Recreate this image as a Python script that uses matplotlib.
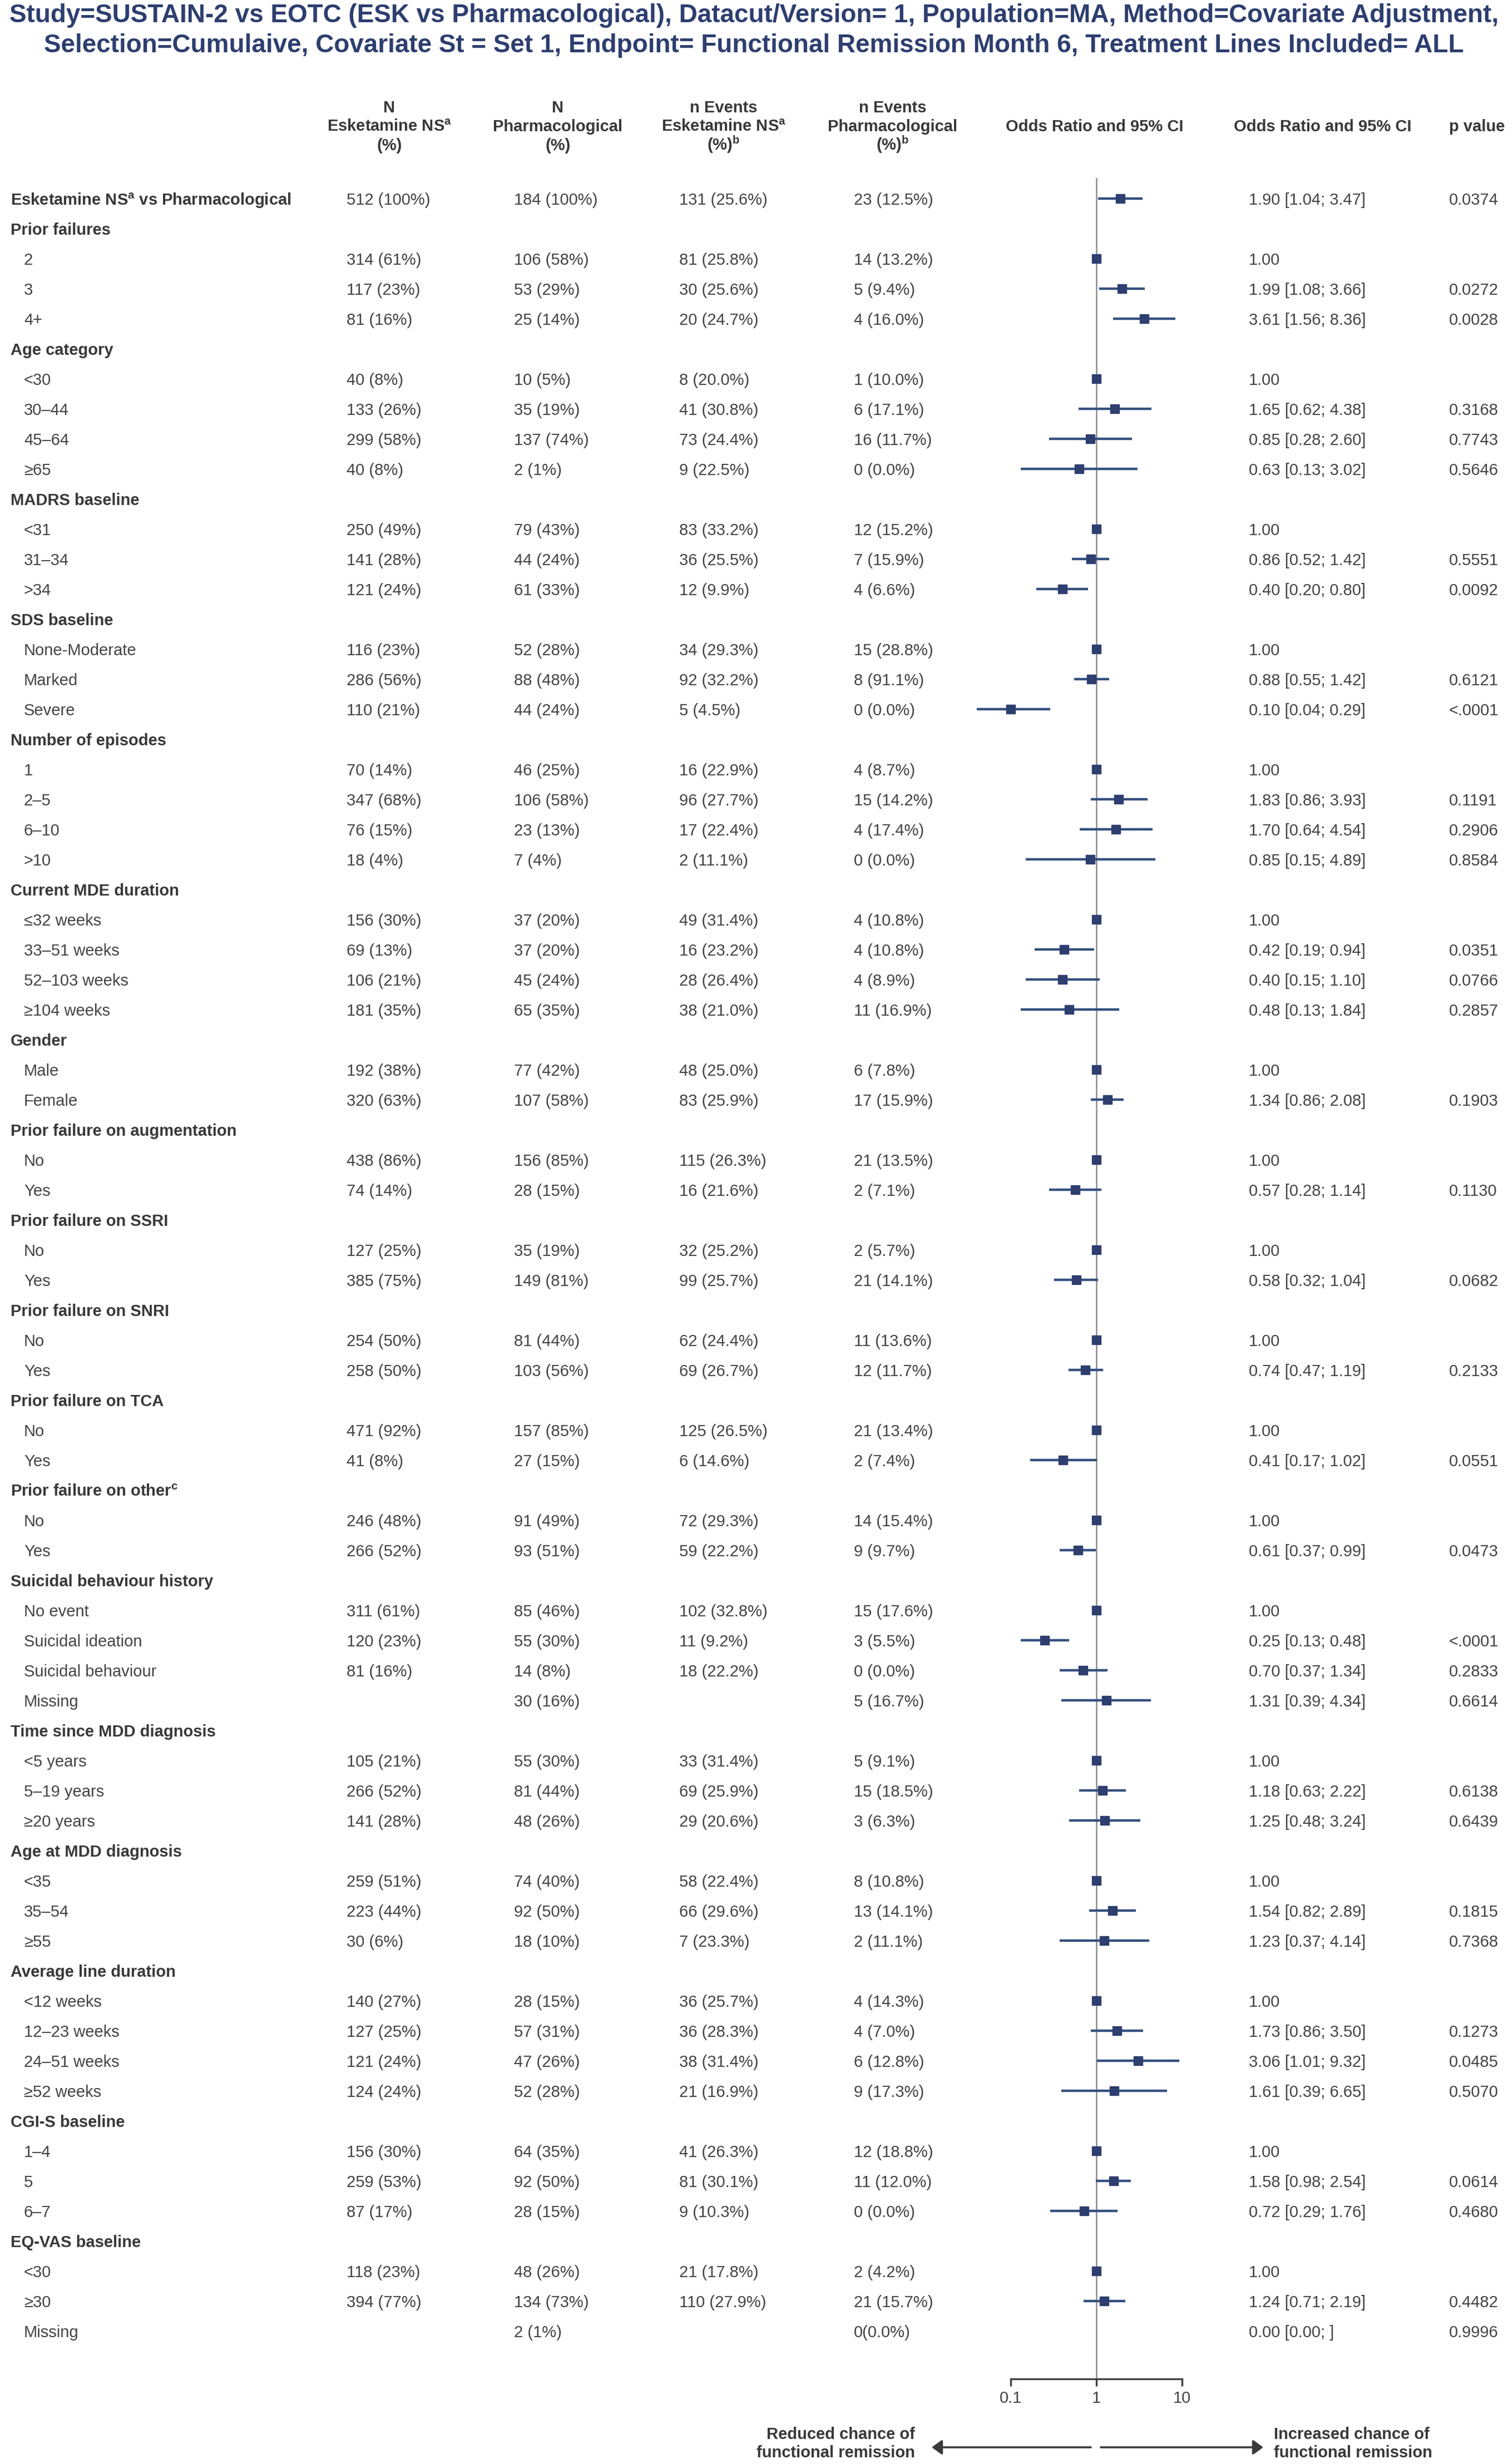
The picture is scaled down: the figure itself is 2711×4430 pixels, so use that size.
import numpy as np
import matplotlib
matplotlib.use("Agg")
import matplotlib.pyplot as plt
from matplotlib.patches import FancyArrowPatch
from matplotlib.ticker import NullLocator
from matplotlib.transforms import blended_transform_factory

plt.rcParams['font.family'] = ['Liberation Sans', 'DejaVu Sans']
plt.rcParams['mathtext.fontset'] = 'custom'
plt.rcParams['mathtext.rm'] = 'Liberation Sans'
plt.rcParams['mathtext.bf'] = 'Liberation Sans:bold'

# ---- data ----
SUP_A = r"$^{\mathregular{a}}$"
SUP_B = r"$^{\mathregular{b}}$"
SUP_C = r"$^{\mathregular{c}}$"

row_labels = [
    "Esketamine NS" + SUP_A + " vs Pharmacological",
    "Prior failures", "2", "3", "4+",
    "Age category", "<30", "30–44", "45–64", "≥65",
    "MADRS baseline", "<31", "31–34", ">34",
    "SDS baseline", "None-Moderate", "Marked", "Severe",
    "Number of episodes", "1", "2–5", "6–10", ">10",
    "Current MDE duration", "≤32 weeks", "33–51 weeks", "52–103 weeks", "≥104 weeks",
    "Gender", "Male", "Female",
    "Prior failure on augmentation", "No", "Yes",
    "Prior failure on SSRI", "No", "Yes",
    "Prior failure on SNRI", "No", "Yes",
    "Prior failure on TCA", "No", "Yes",
    "Prior failure on other" + SUP_C, "No", "Yes",
    "Suicidal behaviour history", "No event", "Suicidal ideation", "Suicidal behaviour", "Missing",
    "Time since MDD diagnosis", "<5 years", "5–19 years", "≥20 years",
    "Age at MDD diagnosis", "<35", "35–54", "≥55",
    "Average line duration", "<12 weeks", "12–23 weeks", "24–51 weeks", "≥52 weeks",
    "CGI-S baseline", "1–4", "5", "6–7",
    "EQ-VAS baseline", "<30", "≥30", "Missing",
]

is_header = [True,
             True, False, False, False,
             True, False, False, False, False,
             True, False, False, False,
             True, False, False, False,
             True, False, False, False, False,
             True, False, False, False, False,
             True, False, False,
             True, False, False,
             True, False, False,
             True, False, False,
             True, False, False,
             True, False, False,
             True, False, False, False, False,
             True, False, False, False,
             True, False, False, False,
             True, False, False, False, False,
             True, False, False, False,
             True, False, False, False]

n_esk = ["512 (100%)",
         "", "314 (61%)", "117 (23%)", "81 (16%)",
         "", "40 (8%)", "133 (26%)", "299 (58%)", "40 (8%)",
         "", "250 (49%)", "141 (28%)", "121 (24%)",
         "", "116 (23%)", "286 (56%)", "110 (21%)",
         "", "70 (14%)", "347 (68%)", "76 (15%)", "18 (4%)",
         "", "156 (30%)", "69 (13%)", "106 (21%)", "181 (35%)",
         "", "192 (38%)", "320 (63%)",
         "", "438 (86%)", "74 (14%)",
         "", "127 (25%)", "385 (75%)",
         "", "254 (50%)", "258 (50%)",
         "", "471 (92%)", "41 (8%)",
         "", "246 (48%)", "266 (52%)",
         "", "311 (61%)", "120 (23%)", "81 (16%)", "",
         "", "105 (21%)", "266 (52%)", "141 (28%)",
         "", "259 (51%)", "223 (44%)", "30 (6%)",
         "", "140 (27%)", "127 (25%)", "121 (24%)", "124 (24%)",
         "", "156 (30%)", "259 (53%)", "87 (17%)",
         "", "118 (23%)", "394 (77%)", ""]

n_pharm = ["184 (100%)",
           "", "106 (58%)", "53 (29%)", "25 (14%)",
           "", "10 (5%)", "35 (19%)", "137 (74%)", "2 (1%)",
           "", "79 (43%)", "44 (24%)", "61 (33%)",
           "", "52 (28%)", "88 (48%)", "44 (24%)",
           "", "46 (25%)", "106 (58%)", "23 (13%)", "7 (4%)",
           "", "37 (20%)", "37 (20%)", "45 (24%)", "65 (35%)",
           "", "77 (42%)", "107 (58%)",
           "", "156 (85%)", "28 (15%)",
           "", "35 (19%)", "149 (81%)",
           "", "81 (44%)", "103 (56%)",
           "", "157 (85%)", "27 (15%)",
           "", "91 (49%)", "93 (51%)",
           "", "85 (46%)", "55 (30%)", "14 (8%)", "30 (16%)",
           "", "55 (30%)", "81 (44%)", "48 (26%)",
           "", "74 (40%)", "92 (50%)", "18 (10%)",
           "", "28 (15%)", "57 (31%)", "47 (26%)", "52 (28%)",
           "", "64 (35%)", "92 (50%)", "28 (15%)",
           "", "48 (26%)", "134 (73%)", "2 (1%)"]

ev_esk = ["131 (25.6%)",
          "", "81 (25.8%)", "30 (25.6%)", "20 (24.7%)",
          "", "8 (20.0%)", "41 (30.8%)", "73 (24.4%)", "9 (22.5%)",
          "", "83 (33.2%)", "36 (25.5%)", "12 (9.9%)",
          "", "34 (29.3%)", "92 (32.2%)", "5 (4.5%)",
          "", "16 (22.9%)", "96 (27.7%)", "17 (22.4%)", "2 (11.1%)",
          "", "49 (31.4%)", "16 (23.2%)", "28 (26.4%)", "38 (21.0%)",
          "", "48 (25.0%)", "83 (25.9%)",
          "", "115 (26.3%)", "16 (21.6%)",
          "", "32 (25.2%)", "99 (25.7%)",
          "", "62 (24.4%)", "69 (26.7%)",
          "", "125 (26.5%)", "6 (14.6%)",
          "", "72 (29.3%)", "59 (22.2%)",
          "", "102 (32.8%)", "11 (9.2%)", "18 (22.2%)", "",
          "", "33 (31.4%)", "69 (25.9%)", "29 (20.6%)",
          "", "58 (22.4%)", "66 (29.6%)", "7 (23.3%)",
          "", "36 (25.7%)", "36 (28.3%)", "38 (31.4%)", "21 (16.9%)",
          "", "41 (26.3%)", "81 (30.1%)", "9 (10.3%)",
          "", "21 (17.8%)", "110 (27.9%)", ""]

ev_pharm = ["23 (12.5%)",
            "", "14 (13.2%)", "5 (9.4%)", "4 (16.0%)",
            "", "1 (10.0%)", "6 (17.1%)", "16 (11.7%)", "0 (0.0%)",
            "", "12 (15.2%)", "7 (15.9%)", "4 (6.6%)",
            "", "15 (28.8%)", "8 (91.1%)", "0 (0.0%)",
            "", "4 (8.7%)", "15 (14.2%)", "4 (17.4%)", "0 (0.0%)",
            "", "4 (10.8%)", "4 (10.8%)", "4 (8.9%)", "11 (16.9%)",
            "", "6 (7.8%)", "17 (15.9%)",
            "", "21 (13.5%)", "2 (7.1%)",
            "", "2 (5.7%)", "21 (14.1%)",
            "", "11 (13.6%)", "12 (11.7%)",
            "", "21 (13.4%)", "2 (7.4%)",
            "", "14 (15.4%)", "9 (9.7%)",
            "", "15 (17.6%)", "3 (5.5%)", "0 (0.0%)", "5 (16.7%)",
            "", "5 (9.1%)", "15 (18.5%)", "3 (6.3%)",
            "", "8 (10.8%)", "13 (14.1%)", "2 (11.1%)",
            "", "4 (14.3%)", "4 (7.0%)", "6 (12.8%)", "9 (17.3%)",
            "", "12 (18.8%)", "11 (12.0%)", "0 (0.0%)",
            "", "2 (4.2%)", "21 (15.7%)", "0(0.0%)"]

N = None
odds_ratio = [1.90,
              N, 1.00, 1.99, 3.61,
              N, 1.00, 1.65, 0.85, 0.63,
              N, 1.00, 0.86, 0.40,
              N, 1.00, 0.88, 0.10,
              N, 1.00, 1.83, 1.70, 0.85,
              N, 1.00, 0.42, 0.40, 0.48,
              N, 1.00, 1.34,
              N, 1.00, 0.57,
              N, 1.00, 0.58,
              N, 1.00, 0.74,
              N, 1.00, 0.41,
              N, 1.00, 0.61,
              N, 1.00, 0.25, 0.70, 1.31,
              N, 1.00, 1.18, 1.25,
              N, 1.00, 1.54, 1.23,
              N, 1.00, 1.73, 3.06, 1.61,
              N, 1.00, 1.58, 0.72,
              N, 1.00, 1.24, 0.00]

ci_low = [1.04,
          N, N, 1.08, 1.56,
          N, N, 0.62, 0.28, 0.13,
          N, N, 0.52, 0.20,
          N, N, 0.55, 0.04,
          N, N, 0.86, 0.64, 0.15,
          N, N, 0.19, 0.15, 0.13,
          N, N, 0.86,
          N, N, 0.28,
          N, N, 0.32,
          N, N, 0.47,
          N, N, 0.17,
          N, N, 0.37,
          N, N, 0.13, 0.37, 0.39,
          N, N, 0.63, 0.48,
          N, N, 0.82, 0.37,
          N, N, 0.86, 1.01, 0.39,
          N, N, 0.98, 0.29,
          N, N, 0.71, 0.00]

ci_high = [3.47,
           N, N, 3.66, 8.36,
           N, N, 4.38, 2.60, 3.02,
           N, N, 1.42, 0.80,
           N, N, 1.42, 0.29,
           N, N, 3.93, 4.54, 4.89,
           N, N, 0.94, 1.10, 1.84,
           N, N, 2.08,
           N, N, 1.14,
           N, N, 1.04,
           N, N, 1.19,
           N, N, 1.02,
           N, N, 0.99,
           N, N, 0.48, 1.34, 4.34,
           N, N, 2.22, 3.24,
           N, N, 2.89, 4.14,
           N, N, 3.50, 9.32, 6.65,
           N, N, 2.54, 1.76,
           N, N, 2.19, N]

p_values = ["0.0374",
            "", "", "0.0272", "0.0028",
            "", "", "0.3168", "0.7743", "0.5646",
            "", "", "0.5551", "0.0092",
            "", "", "0.6121", "<.0001",
            "", "", "0.1191", "0.2906", "0.8584",
            "", "", "0.0351", "0.0766", "0.2857",
            "", "", "0.1903",
            "", "", "0.1130",
            "", "", "0.0682",
            "", "", "0.2133",
            "", "", "0.0551",
            "", "", "0.0473",
            "", "", "<.0001", "0.2833", "0.6614",
            "", "", "0.6138", "0.6439",
            "", "", "0.1815", "0.7368",
            "", "", "0.1273", "0.0485", "0.5070",
            "", "", "0.0614", "0.4680",
            "", "", "0.4482", "0.9996"]

title_lines = ["Study=SUSTAIN-2 vs EOTC (ESK vs Pharmacological), Datacut/Version= 1, Population=MA, Method=Covariate Adjustment,",
               "Selection=Cumulaive, Covariate St = Set 1, Endpoint= Functional Remission Month 6, Treatment Lines Included= ALL"]

col_headers = [["N", "Esketamine NS" + SUP_A, "(%)"],
               ["N", "Pharmacological", "(%)"],
               ["n Events", "Esketamine NS" + SUP_A, "(%)" + SUP_B],
               ["n Events", "Pharmacological", "(%)" + SUP_B],
               ["Odds Ratio and 95% CI"],
               ["Odds Ratio and 95% CI"],
               ["p value"]]

# ---- layout (pixels of the 2711 x 4430 canvas) ----
W, H = 2711, 4430
navy = "#2d3e6f"
line_blue = "#34507f"
txt_dark = "#383838"
txt_reg = "#444444"
fs = 21

fig = plt.figure(figsize=(W / 100, H / 100), dpi=100)

# forest axes: x=1 at 1971 px, one decade = 154 px; rows 54 px apart from y=357
x_left, x_right, x_one, dec = 1700, 2200, 1971, 154.0
y_top, y_bot, y_row0, dy = 320, 4277, 357, 54.0
ax = fig.add_axes([x_left / W, 1 - y_bot / H, (x_right - x_left) / W, (y_bot - y_top) / H])
ax.set_xscale("log")
ax.set_xlim(10 ** ((x_left - x_one) / dec), 10 ** ((x_right - x_one) / dec))
ax.set_ylim((y_bot - y_row0) / dy, (y_top - y_row0) / dy)

ax.axvline(1, color="#8c8c8c", lw=1.8, zorder=1)
for i, orv in enumerate(odds_ratio):
    if orv is None or orv <= 0:
        continue
    if ci_low[i] is not None and ci_high[i] is not None:
        ax.plot([ci_low[i], ci_high[i]], [i, i], color=line_blue, lw=3.2,
                solid_capstyle="butt", zorder=2)
    ax.plot(orv, i, marker="s", ms=11.5, color=navy, mec=navy, zorder=3)

for s in ["top", "left", "right"]:
    ax.spines[s].set_visible(False)
ax.spines["bottom"].set_bounds(0.1, 10)
ax.spines["bottom"].set_linewidth(2.4)
ax.spines["bottom"].set_color("#404040")
ax.set_xticks([0.1, 1, 10])
ax.set_xticklabels(["0.1", "1", "10"])
ax.xaxis.set_minor_locator(NullLocator())
ax.tick_params(axis="x", direction="out", length=9, width=2.4, color="#404040",
               labelsize=fs, labelcolor=txt_reg, pad=6)
ax.set_yticks([])
ax.patch.set_alpha(0)

# ---- table text ----
tr = blended_transform_factory(fig.transFigure, ax.transData)
col_x = [623, 924, 1221, 1535]
for i, lab in enumerate(row_labels):
    if is_header[i]:
        fig.text(19 / W, i, lab, transform=tr, ha="left", va="center_baseline",
                 fontsize=fs, weight="bold", color=txt_dark)
    else:
        fig.text(43 / W, i, lab, transform=tr, ha="left", va="center_baseline",
                 fontsize=fs, color=txt_reg)
    for cx, vals in zip(col_x, [n_esk, n_pharm, ev_esk, ev_pharm]):
        if vals[i]:
            fig.text(cx / W, i, vals[i], transform=tr, ha="left", va="center_baseline",
                     fontsize=fs, color=txt_reg)
    orv = odds_ratio[i]
    if orv is not None:
        if ci_low[i] is None:
            s = f"{orv:.2f}"
        elif ci_high[i] is None:
            s = f"{orv:.2f} [{ci_low[i]:.2f}; ]"
        else:
            s = f"{orv:.2f} [{ci_low[i]:.2f}; {ci_high[i]:.2f}]"
        fig.text(2245 / W, i, s, transform=tr, ha="left", va="center_baseline",
                 fontsize=fs, color=txt_reg)
    if p_values[i]:
        fig.text(2605 / W, i, p_values[i], transform=tr, ha="left", va="center_baseline",
                 fontsize=fs, color=txt_reg)

# column headers
head_x = [700, 1003, 1301, 1605, 1968, 2378, 2655]
for hx, lines in zip(head_x, col_headers):
    ys = [202, 236, 270] if len(lines) == 3 else [236]
    for yy, t in zip(ys, lines):
        fig.text(hx / W, 1 - yy / H, t, ha="center", va="baseline",
                 fontsize=fs, weight="bold", color=txt_dark)

# title, fitted to the width of the reference
t1 = fig.text(0.5, 1 - 28 / H, title_lines[0], ha="center", va="center",
              fontsize=30, weight="bold", color=navy)
fig.canvas.draw()
w1 = t1.get_window_extent().width
tfs = 30 * 2673 / w1
t1.set_fontsize(tfs)
fig.text(0.5, 1 - 82 / H, title_lines[1], ha="center", va="center",
         fontsize=tfs, weight="bold", color=navy)

# direction arrows
arr_y = 1 - 4400 / H
for x0, x1 in [(1961, 1675), (1979, 2271)]:
    fig.add_artist(FancyArrowPatch((x0 / W, arr_y), (x1 / W, arr_y), transform=fig.transFigure,
                                   arrowstyle="-|>,head_length=0.55,head_width=0.4",
                                   mutation_scale=20, lw=2.6, color="#3a3a3a",
                                   shrinkA=0, shrinkB=0))
for yy, t in [(4377, "Reduced chance of"), (4410, "functional remission")]:
    fig.text(1645 / W, 1 - yy / H, t, ha="right", va="center", fontsize=fs,
             weight="bold", color=txt_dark)
for yy, t in [(4377, "Increased chance of"), (4410, "functional remission")]:
    fig.text(2290 / W, 1 - yy / H, t, ha="left", va="center", fontsize=fs,
             weight="bold", color=txt_dark)

fig.savefig("out.png", dpi=100, facecolor="white")
